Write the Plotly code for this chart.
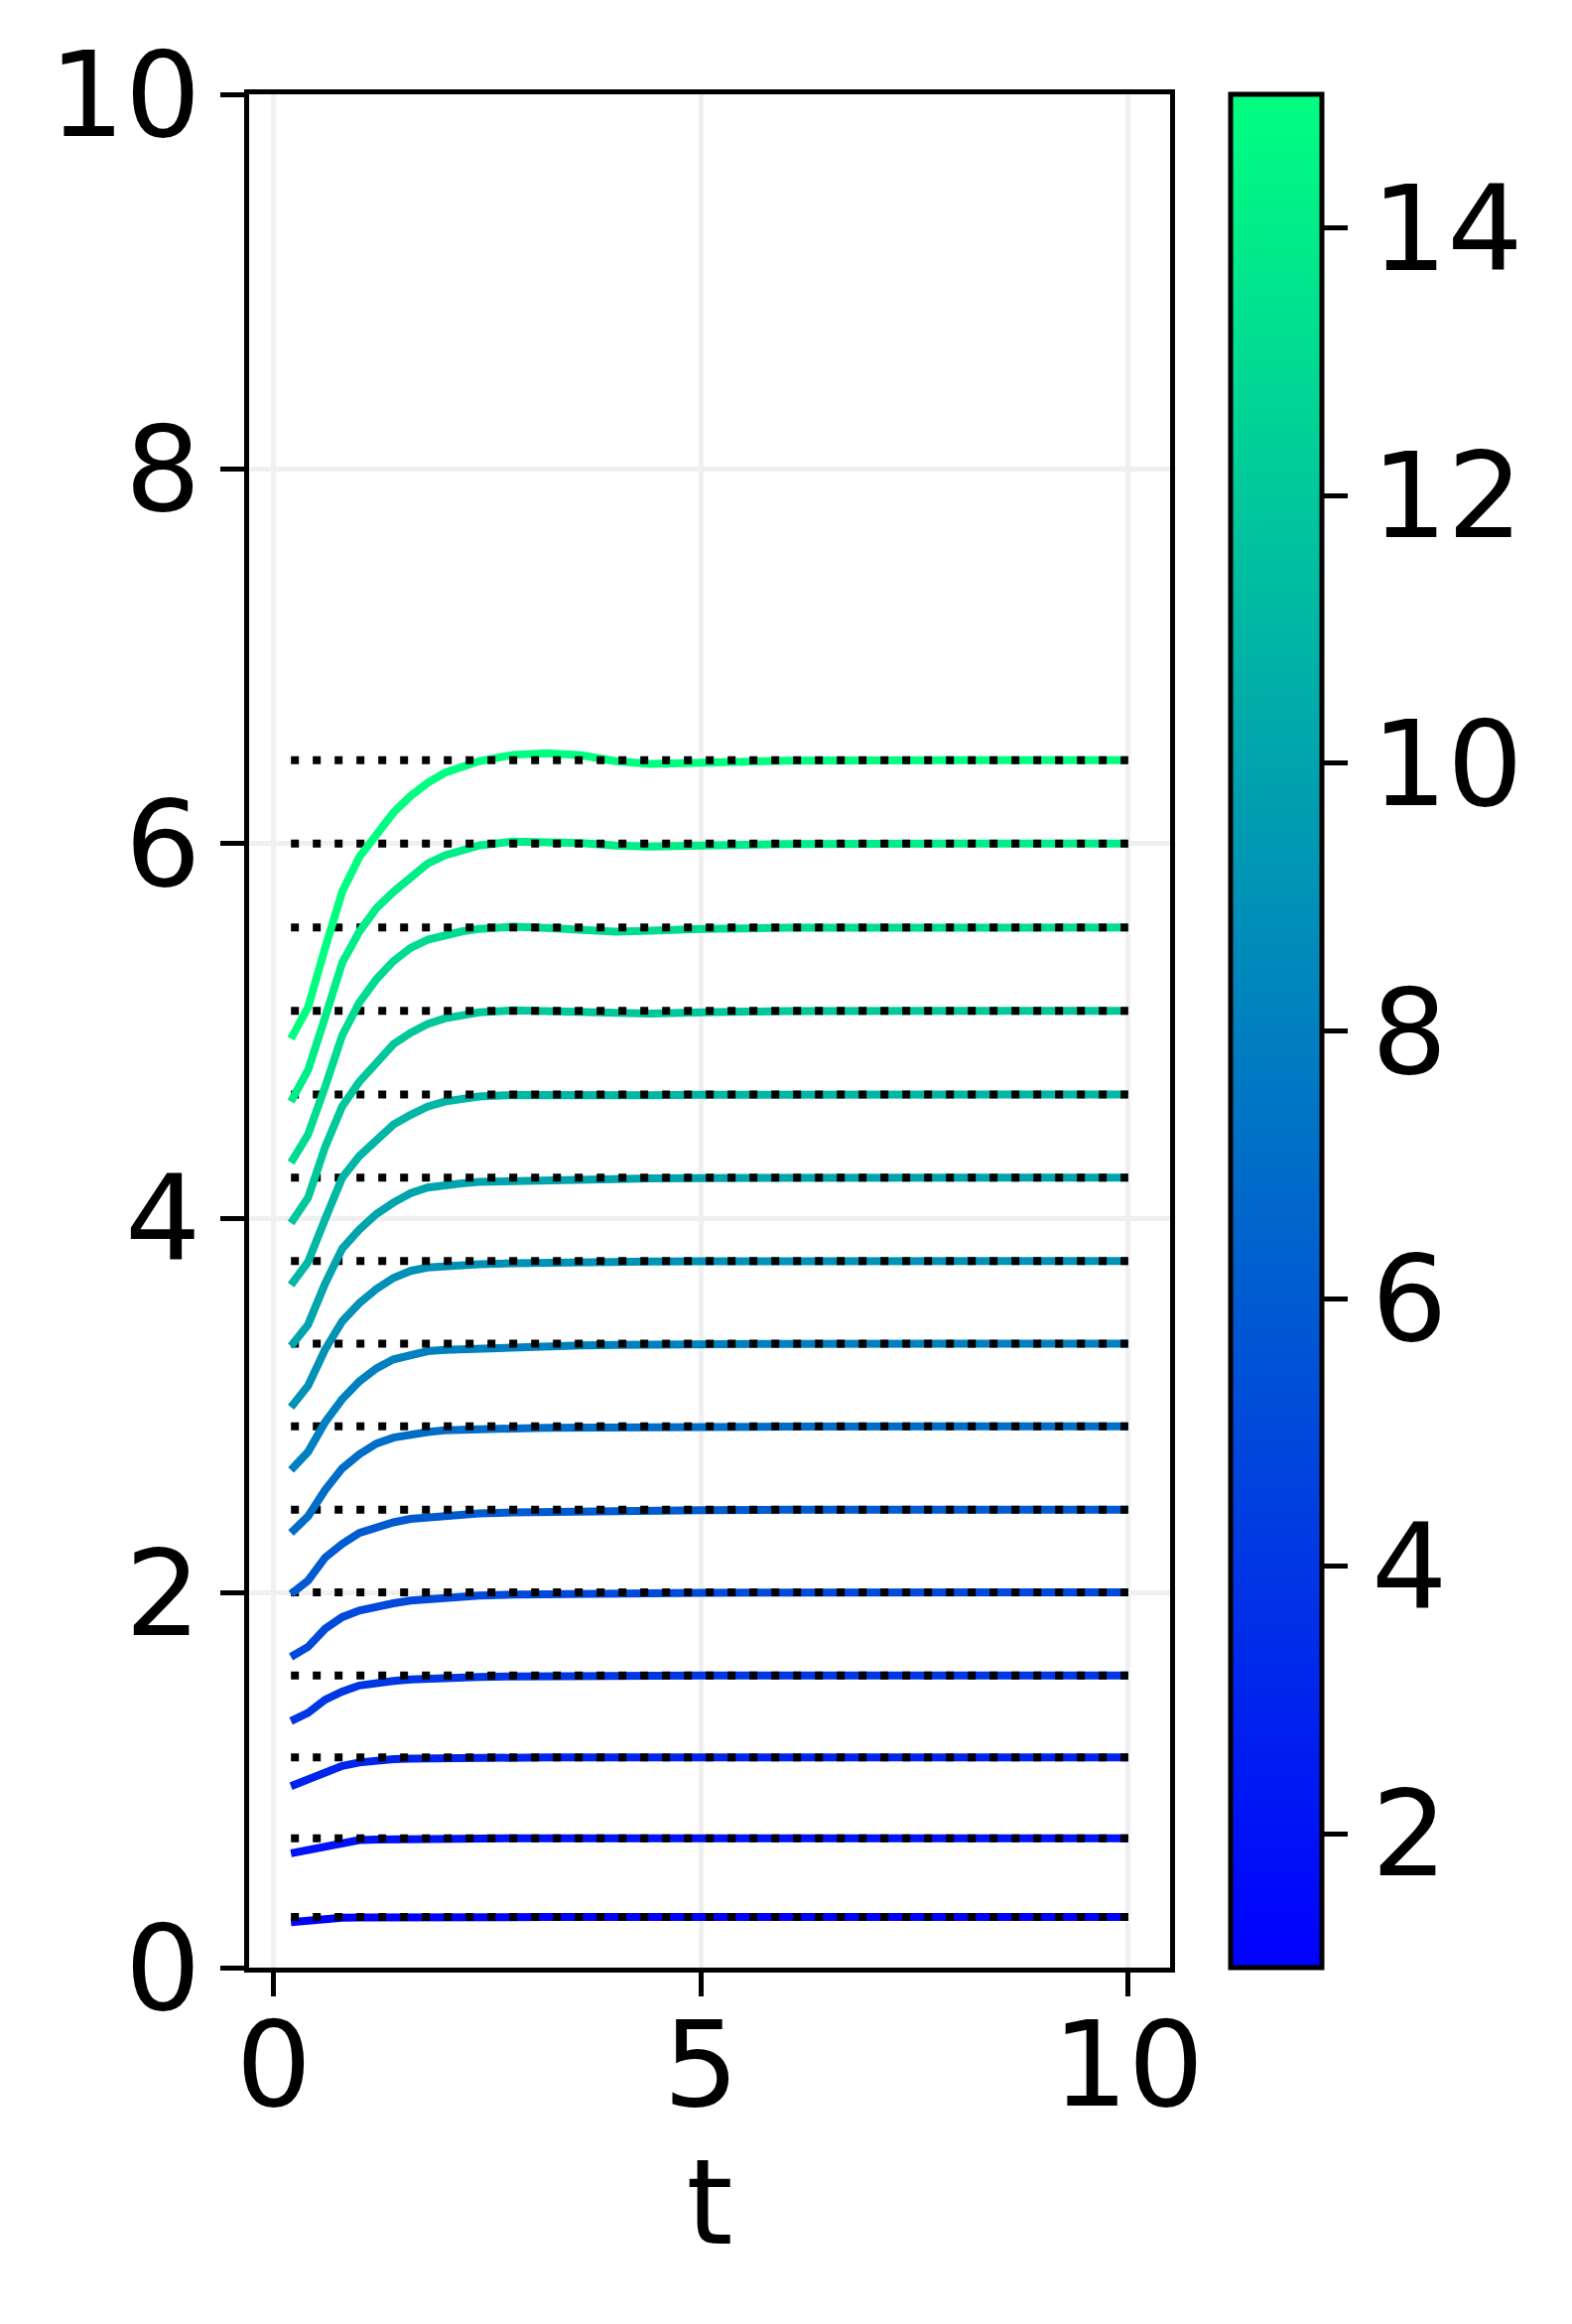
import plotly.graph_objects as go

# time grid (t)
t_values = [0.2, 0.4, 0.6, 0.8, 1.0, 1.2, 1.4, 1.6, 1.8, 2.0, 2.2, 2.4,
            2.8, 3.2, 3.6, 4.0, 4.4, 5.0, 6.0, 8.0, 10.0]

# colour value of each curve (colorbar scale 1..15)
curve_ids = list(range(1, 16))

# steady-state levels (dotted lines)
levels = [0.270, 0.690, 1.122, 1.559, 2.003, 2.444, 2.889, 3.331,
          3.772, 4.217, 4.661, 5.107, 5.552, 6.000, 6.445]

c1 = [0.243, 0.252, 0.263, 0.266, 0.268, 0.269, 0.269, 0.270, 0.270, 0.270, 0.270,
      0.270, 0.270, 0.270, 0.270, 0.270, 0.270, 0.270, 0.270, 0.270, 0.270]
c2 = [0.610, 0.628, 0.654, 0.672, 0.681, 0.684, 0.686, 0.688, 0.689, 0.689, 0.690,
      0.690, 0.690, 0.690, 0.690, 0.690, 0.690, 0.690, 0.690, 0.690, 0.690]
c3 = [0.968, 1.002, 1.046, 1.077, 1.095, 1.107, 1.113, 1.116, 1.118, 1.120, 1.121,
      1.121, 1.122, 1.122, 1.122, 1.122, 1.122, 1.122, 1.122, 1.122, 1.122]
c4 = [1.316, 1.360, 1.430, 1.474, 1.506, 1.522, 1.530, 1.538, 1.543, 1.548, 1.550,
      1.552, 1.554, 1.556, 1.557, 1.558, 1.558, 1.559, 1.559, 1.559, 1.559]
c5 = [1.659, 1.712, 1.809, 1.871, 1.906, 1.930, 1.945, 1.959, 1.968, 1.977, 1.982,
      1.986, 1.991, 1.994, 1.996, 1.998, 2.000, 2.001, 2.002, 2.003, 2.003]
c6 = [1.995, 2.066, 2.189, 2.262, 2.320, 2.352, 2.377, 2.395, 2.405, 2.414, 2.420,
      2.425, 2.430, 2.434, 2.437, 2.439, 2.441, 2.442, 2.444, 2.444, 2.444]
c7 = [2.321, 2.409, 2.550, 2.665, 2.740, 2.797, 2.829, 2.846, 2.859, 2.868, 2.872,
      2.875, 2.878, 2.881, 2.883, 2.885, 2.886, 2.887, 2.888, 2.889, 2.889]
c8 = [2.656, 2.753, 2.912, 3.035, 3.129, 3.199, 3.247, 3.273, 3.291, 3.298, 3.302,
      3.305, 3.312, 3.317, 3.321, 3.324, 3.326, 3.328, 3.330, 3.331, 3.331]
c9 = [2.991, 3.106, 3.300, 3.450, 3.547, 3.622, 3.682, 3.719, 3.737, 3.746, 3.751,
      3.755, 3.760, 3.764, 3.766, 3.768, 3.769, 3.770, 3.771, 3.772, 3.772]
c10 = [3.317, 3.432, 3.652, 3.838, 3.940, 4.023, 4.084, 4.134, 4.164, 4.178, 4.187,
       4.194, 4.199, 4.204, 4.208, 4.211, 4.213, 4.215, 4.216, 4.217, 4.217]
c11 = [3.644, 3.767, 3.996, 4.217, 4.332, 4.420, 4.500, 4.552, 4.596, 4.623, 4.641,
       4.650, 4.658, 4.656, 4.654, 4.655, 4.657, 4.659, 4.661, 4.661, 4.661]
c12 = [3.975, 4.110, 4.380, 4.597, 4.729, 4.826, 4.930, 4.990, 5.037, 5.067, 5.087,
       5.099, 5.110, 5.104, 5.095, 5.090, 5.093, 5.100, 5.106, 5.107, 5.107]
c13 = [4.297, 4.447, 4.702, 4.976, 5.152, 5.276, 5.373, 5.443, 5.487, 5.514, 5.531,
       5.545, 5.556, 5.550, 5.536, 5.530, 5.535, 5.545, 5.551, 5.552, 5.552]
c14 = [4.623, 4.791, 5.073, 5.364, 5.531, 5.655, 5.743, 5.822, 5.893, 5.937, 5.969,
       5.990, 6.011, 6.010, 6.003, 5.990, 5.984, 5.990, 5.998, 6.000, 6.000]
c15 = [4.958, 5.126, 5.443, 5.743, 5.928, 6.052, 6.166, 6.254, 6.325, 6.378, 6.413,
       6.440, 6.474, 6.483, 6.472, 6.440, 6.425, 6.435, 6.443, 6.445, 6.445]

curves = [c1, c2, c3, c4, c5, c6, c7, c8, c9, c10, c11, c12, c13, c14, c15]

x_ticks = [0, 5, 10]
y_ticks = [0, 2, 4, 6, 8, 10]
cbar_ticks = [2, 4, 6, 8, 10, 12, 14]
cmin, cmax = 1, 15

FONT = "DejaVu Sans"
FS = 120

# page offset compensation (body margin of the html page)
OFF = 8
PLOT_L, PLOT_R, PLOT_T, PLOT_B = 251 - OFF, 1179 - OFF, 95 - OFF, 1982 - OFF
W, H = 1584, 2341


def winter(v):
    f = (v - cmin) / (cmax - cmin)
    return "rgb(0,%d,%d)" % (round(255 * f), round(255 * (1 - 0.5 * f)))


fig = go.Figure()
t0, t1 = t_values[0], t_values[-1]
for cid, ys, lev in zip(curve_ids, curves, levels):
    fig.add_trace(go.Scatter(x=t_values, y=ys, mode="lines",
                             line=dict(color=winter(cid), width=8),
                             showlegend=False, hoverinfo="skip"))
    fig.add_trace(go.Scatter(x=[t0, t1], y=[lev, lev], mode="lines",
                             line=dict(color="black", width=8, dash="8px,14px"),
                             showlegend=False, hoverinfo="skip"))

# colorbar carrier
fig.add_trace(go.Scatter(
    x=[None], y=[None], mode="markers", showlegend=False, hoverinfo="skip",
    marker=dict(color=[cmin], cmin=cmin, cmax=cmax,
                colorscale=[[0, "#0000ff"], [1, "#00ff80"]],
                showscale=True,
                colorbar=dict(
                    x=(1240 - 251) / (PLOT_R - PLOT_L), xanchor="left", xpad=0,
                    y=0.5, yanchor="middle", ypad=0,
                    thickness=92, thicknessmode="pixels",
                    len=PLOT_B - PLOT_T, lenmode="pixels",
                    outlinewidth=5, outlinecolor="black",
                    tickmode="array", tickvals=cbar_ticks,
                    ticktext=[str(v) for v in cbar_ticks],
                    ticks="outside", ticklen=24, tickwidth=5, tickcolor="black",
                    tickfont=dict(family=FONT, size=FS, color="black"),
                ))))

axis_common = dict(
    showline=True, linecolor="black", linewidth=4.5, mirror=True,
    ticks="outside", ticklen=24, tickwidth=5, tickcolor="black",
    showgrid=True, gridcolor="#f0f0f0", gridwidth=5,
    zeroline=False,
    tickfont=dict(family=FONT, size=FS, color="black"),
)

fig.update_xaxes(range=[-0.29, 10.49], tickmode="array", tickvals=x_ticks,
                 ticktext=[str(v) for v in x_ticks],
                 ticklabelstandoff=-34,
                 title=dict(text="t", font=dict(family=FONT, size=FS, color="black"),
                            standoff=26),
                 **axis_common)
fig.update_yaxes(range=[0, 10], tickmode="array", tickvals=y_ticks,
                 ticktext=[str(v) for v in y_ticks],
                 ticklabelstandoff=-4,
                 **axis_common)

fig.update_layout(
    width=W, height=H,
    margin=dict(l=PLOT_L, r=W - PLOT_R, t=PLOT_T, b=H - PLOT_B, pad=0),
    paper_bgcolor="white", plot_bgcolor="white",
    font=dict(family=FONT, size=FS, color="black"),
)

fig.write_html("out.html")
